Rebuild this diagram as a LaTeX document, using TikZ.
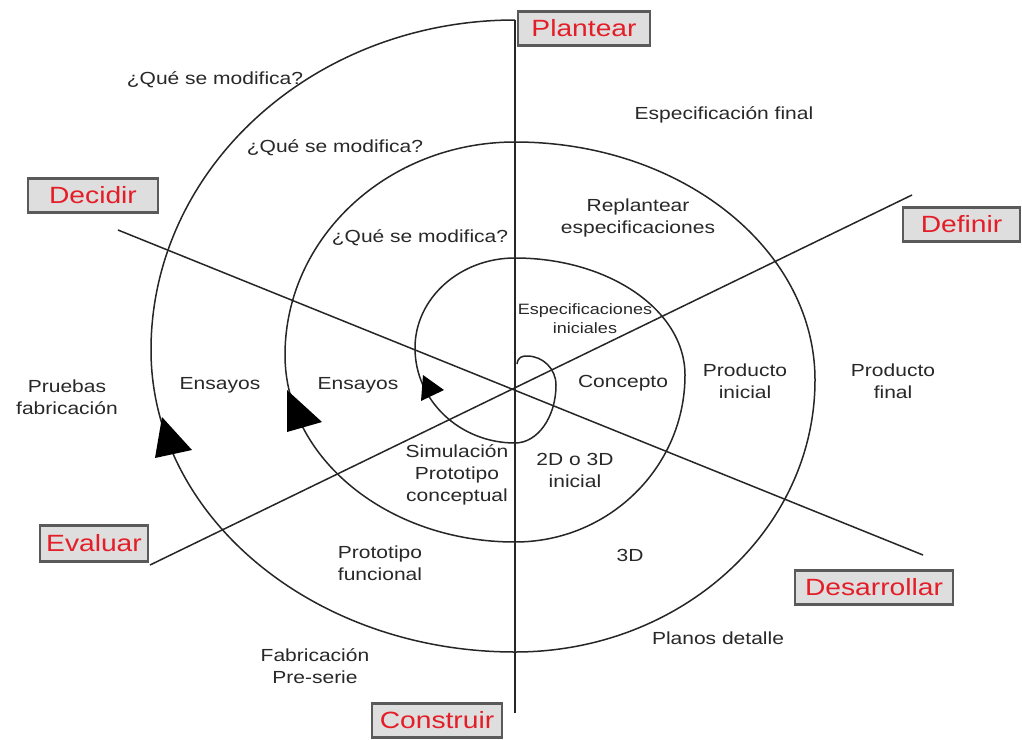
\documentclass[tikz,border=0pt]{standalone}
\usepackage{fontspec}
\setmainfont{Liberation Sans}[FakeStretch=1.2]
\definecolor{boxred}{RGB}{228,30,40}
\definecolor{boxfill}{RGB}{222,222,222}
\definecolor{boxline}{RGB}{90,90,90}
\definecolor{txt}{RGB}{40,40,40}
\tikzset{
 phase/.style={draw=boxline, line width=2.3pt, fill=boxfill, text=boxred, font=\fontsize{23.5}{26}\selectfont, inner sep=0pt, minimum height=34pt},
 lab/.style={text=txt, font=\fontsize{17.5}{22}\selectfont, align=center, inner sep=0pt},
 smalllab/.style={lab, font=\fontsize{15}{19}\selectfont},
 axisline/.style={line width=1.5pt, draw=black!85},
 spiralline/.style={line width=1.5pt, draw=black!85},
 head/.style={fill=black}
}
\begin{document}
\begin{tikzpicture}[x=1pt,y=-1pt]
\useasboundingbox[fill=white] (0,0) rectangle (1022,739);
% axes
\coordinate (vtop) at (515,20);
\coordinate (vbot) at (515,713);
\coordinate (decA) at (118,230);
\coordinate (decB) at (923,555);
\coordinate (evaA) at (150,565);
\coordinate (evaB) at (912,195);
\draw[axisline] (vtop) -- (vbot);
\draw[axisline] (decA) -- (decB);
\draw[axisline] (evaA) -- (evaB);
% spiral
\coordinate (sp0) at (517,364);
\draw[spiralline] (sp0) .. controls (518,357) and (522,356) .. (527,356)
 arc[start angle=270, end angle=360, x radius=29, y radius=29]
 arc[start angle=0, end angle=90, x radius=41, y radius=58]
 arc[start angle=90, end angle=180, x radius=100, y radius=95]
 arc[start angle=180, end angle=270, x radius=100, y radius=90]
 arc[start angle=270, end angle=360, x radius=170, y radius=117]
 arc[start angle=0, end angle=90, x radius=170, y radius=167]
 arc[start angle=90, end angle=180, x radius=230, y radius=187]
 arc[start angle=180, end angle=270, x radius=230, y radius=213]
 arc[start angle=270, end angle=360, x radius=300, y radius=238]
 arc[start angle=0, end angle=90, x radius=300, y radius=272]
 arc[start angle=90, end angle=180, x radius=364, y radius=302]
 arc[start angle=180, end angle=270, x radius=364, y radius=330];
% arrowheads
\fill[head] (423,375) -- (421,401) -- (444,390) -- cycle;
\fill[head] (287,390) -- (287,432) -- (322,422) -- cycle;
\fill[head] (162,417) -- (155,458) -- (192,450) -- cycle;
% phase boxes
\node[phase, minimum width=132pt] (plantear) at (584,28.5) {Plantear};
\node[phase, minimum width=130pt] (decidir) at (93,195.5) {Decidir};
\node[phase, minimum width=117pt] (definir) at (961.5,224.5) {Definir};
\node[phase, minimum width=108pt, minimum height=36pt] (evaluar) at (94,543.5) {Evaluar};
\node[phase, minimum width=130pt] (construir) at (437,720.5) {Construir};
\node[phase, minimum width=158pt] (desarrollar) at (874,587.5) {Desarrollar};
% labels
\node[lab] (q1) at (215,80) {¿Qué se modifica?};
\node[lab] (q2) at (335,148) {¿Qué se modifica?};
\node[lab] (q3) at (420,238) {¿Qué se modifica?};
\node[lab] (espf) at (724,115) {Especificación final};
\node[lab] (repl) at (638,218) {Replantear\\especificaciones};
\node[smalllab] (espi) at (585,319) {Especificaciones\\iniciales};
\node[lab] (conc) at (623,383) {Concepto};
\node[lab] (prodi) at (745,381) {Producto\\inicial};
\node[lab] (prodf) at (893,381) {Producto\\final};
\node[lab] (prueb) at (67,397) {Pruebas\\fabricación};
\node[lab] (ens1) at (220,385) {Ensayos};
\node[lab] (ens2) at (358,385) {Ensayos};
\node[lab] (simu) at (457,475) {Simulación\\Prototipo\\conceptual};
\node[lab] (dtres) at (575,470) {2D o 3D\\inicial};
\node[lab] (protf) at (380,563) {Prototipo\\funcional};
\node[lab] (tresd) at (630,555) {3D};
\node[lab] (planos) at (718,638) {Planos detalle};
\node[lab] (fabr) at (315,666) {Fabricación\\Pre-serie};
\end{tikzpicture}
\end{document}
